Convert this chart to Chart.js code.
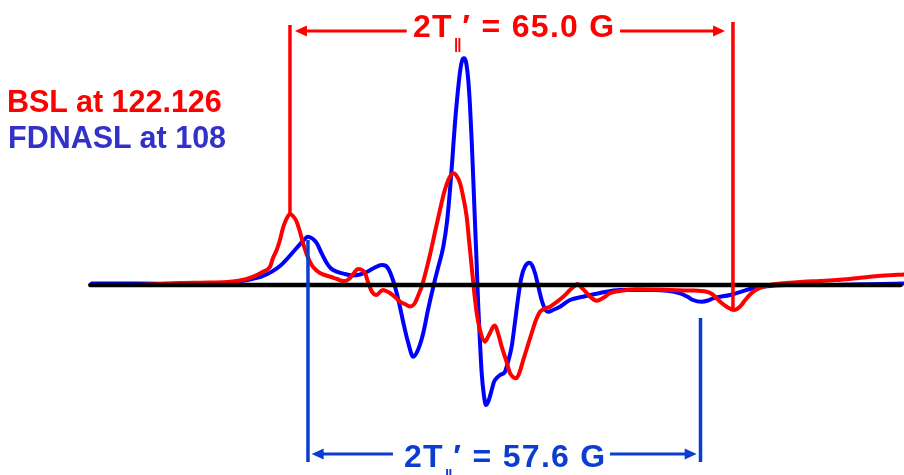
<!DOCTYPE html>
<html>
<head>
<meta charset="utf-8">
<script src="https://cdn.jsdelivr.net/npm/chart.js@4.4.0/dist/chart.umd.min.js"></script>
<style>
  html, body { margin: 0; padding: 0; background: #ffffff; }
  #wrap { position: relative; width: 904px; height: 475px; overflow: hidden; }
  #chart { position: absolute; left: 0; top: 0; }
  .lbl { position: absolute; white-space: nowrap; font-family: "Liberation Sans", Arial, sans-serif; font-weight: bold; line-height: 1; }
  .split { letter-spacing: 1.3px; }
  .sub { position: relative; font-size: 15px; letter-spacing: -1px; margin-left: 1px; margin-right: 2px; }
</style>
</head>
<body>
<div id="wrap">
  <canvas id="chart" width="904" height="475"></canvas>
  <div class="lbl" id="lgRed" style="left:7px; top:86px; font-size:30.5px; color:#ff0000;"></div>
  <div class="lbl" id="lgBlue" style="left:8px; top:122px; font-size:30.5px; color:#3232c8;"></div>
  <div class="lbl split" id="tRed" style="left:413px; top:10px; font-size:32px; color:#ff0000;"></div>
  <div class="lbl split" id="tBlue" style="left:404px; top:440px; font-size:32px; color:#0b3ecf;"></div>
</div>
<script>
// ---- Data (field offset in G, first-derivative EPR intensity in a.u.) ----
const bslField = [-29.10,-24.95,-20.54,-16.14,-11.74,-8.80,-6.60,-5.39,-3.96,-2.93,-2.49,-1.95,-1.47,-1.03,-0.59,0,0.44,0.98,1.47,1.91,2.49,3.18,3.82,4.40,5.87,6.90,7.78,8.36,8.80,9.39,9.98,10.42,11.01,11.45,12.03,12.72,13.21,13.65,14.09,14.67,15.41,16.14,16.88,17.61,18.34,18.78,19.33,19.81,20.54,21.28,22.01,22.60,23.23,23.63,23.96,24.36,24.95,25.39,25.93,26.27,26.66,27.00,27.40,27.88,28.61,29.05,29.35,29.79,30.08,30.52,31.07,31.70,32.28,32.72,33.16,33.60,34.23,34.78,35.47,36.10,36.69,37.42,38.15,39.03,40.10,41.09,41.67,42.22,42.70,43.54,44.17,45.00,45.93,46.96,48.42,50.87,52.83,55.76,58.70,61.15,61.93,62.62,63.25,64.09,65.06,65.60,66.04,66.92,67.98,68.97,70.44,72.79,75.32,77.77,80.22,82.61,85.11,87.31,90.10];
const bslIntensity = [0,0,0.5,2,2.5,3.3,5.5,8.3,13.3,18.3,27,35,45,57,65,71,69,63.3,53,42,30,20,15,12,8.3,6,4,4.5,7,12,16,15.5,12,3,-6.7,-10,-7,-5,-6,-8,-12,-16.7,-19,-21.5,-18,-11,-1.7,10,30,53,75,92,105,110,111.7,110,102,89,68.3,45,18.3,-5,-28,-45,-56.7,-52,-48,-42,-40.5,-48,-61.7,-75,-88,-92,-93.3,-89,-75,-63,-48,-35,-26.7,-23.5,-21.7,-17.5,-11.7,-5,-1.5,1,-2,-8,-12.5,-15.7,-13,-8.3,-6,-4.3,-4.5,-5,-5.5,-6.7,-9,-13.3,-17.5,-21.7,-25,-24,-21.7,-14,-6.7,-3,0,2,3.3,4,5,6.5,8.3,9.5,10.5];

const fdnaslField = [-29.10,-22.01,-14.67,-8.80,-6.31,-3.96,-1.47,0.98,1.91,2.64,3.38,3.92,4.55,5.39,6.02,6.85,8.07,9.24,10.27,11.25,12.33,13.46,14.09,14.53,15.11,15.66,16.14,16.58,17.32,18.09,18.78,19.56,20.25,21.03,21.72,22.50,23.04,23.48,23.85,24.21,24.58,24.95,25.24,25.53,25.83,26.16,26.41,26.66,26.90,27.15,27.40,27.63,27.88,28.13,28.47,28.76,29.13,29.60,29.93,30.33,30.82,31.55,31.99,32.53,33.02,33.50,33.97,34.48,35.12,35.51,35.95,36.39,36.93,37.42,37.90,38.59,39.62,41.09,42.99,45.49,48.42,53.27,57.23,58.40,59.14,60.41,61.34,62.12,64.57,67.98,70.44,72.89,77.77,82.61,86.58,90.10];
const fdnaslIntensity = [1.5,1.5,1,2,5,9,19,37,44,48.3,46,42,33,22,16.5,13.3,11,9.5,10.5,13,17,20,19,15,5,-8,-22,-36,-57,-71.7,-65,-48,-25,-1.7,17,38.3,63,95,128,162,190,213,224,226.7,223,205,180,145,105,62,20,-21.7,-57,-88,-111,-120,-116,-105,-97,-93,-90,-86.7,-77,-61.7,-37,-11.7,8,18.3,22.3,20,12,0,-15,-24,-26.7,-25,-21.7,-15,-11.7,-8,-5,-5,-8.3,-12,-15,-16.7,-15.5,-13.3,-10,-3.3,-1,0,0,0.5,1,1.5];

const baselineField = [-29.3, 89.6];
const baselineIntensity = [0, 0];

// hyperfine splitting markers (field positions, G)
const bslMarkers = [0, 65.0];
const fdnaslMarkers = [2.64, 60.24];

const legendLabels = ['BSL at 122.126', 'FDNASL at 108'];
const splittingLabels = ['65.0 G', '57.6 G'];

// ---- Text ----
document.getElementById('lgRed').textContent = legendLabels[0];
document.getElementById('lgBlue').textContent = legendLabels[1];
function splitHTML(v, subTop) {
  return '2T<span class="sub" style="top:' + subTop + 'px">||</span>\u2032 = ' + v;
}
document.getElementById('tRed').innerHTML = splitHTML(splittingLabels[0], 12);
document.getElementById('tBlue').innerHTML = splitHTML(splittingLabels[1], 13);

const pts = (xs, ys) => xs.map((x, i) => ({ x: x, y: ys[i] }));

// ---- Annotation styling ----
const annot = {
  red: { color: '#ff0000', markers: bslMarkers, tops: [260, 263], bottoms: [71, -25],
         arrowY: 254, gaps: [[0.73, 17.13], [48.42, 63.84]] },
  blue: { color: '#0b3ecf', markers: fdnaslMarkers, tops: [45, -33], bottoms: [-177, -177],
          arrowY: -169, gaps: [[3.18, 15.11], [46.96, 59.68]] }
};

const annotPlugin = {
  id: 'splittings',
  afterDatasetsDraw(chart) {
    const ctx = chart.ctx, xs = chart.scales.x, ys = chart.scales.y;
    ctx.save();
    for (const k of ['red', 'blue']) {
      const a = annot[k];
      ctx.strokeStyle = a.color; ctx.fillStyle = a.color;
      ctx.lineWidth = 3.5;
      a.markers.forEach((m, i) => {
        const px = xs.getPixelForValue(m);
        ctx.beginPath();
        ctx.moveTo(px, ys.getPixelForValue(a.tops[i]));
        ctx.lineTo(px, ys.getPixelForValue(a.bottoms[i]));
        ctx.stroke();
      });
      const py = ys.getPixelForValue(a.arrowY);
      ctx.lineWidth = 3;
      const l0 = xs.getPixelForValue(a.gaps[0][0]), l1 = xs.getPixelForValue(a.gaps[0][1]);
      const r0 = xs.getPixelForValue(a.gaps[1][0]), r1 = xs.getPixelForValue(a.gaps[1][1]);
      ctx.beginPath();
      ctx.moveTo(l0 + 8, py); ctx.lineTo(l1, py);
      ctx.moveTo(r0, py); ctx.lineTo(r1 - 8, py);
      ctx.stroke();
      ctx.beginPath();
      ctx.moveTo(l0, py); ctx.lineTo(l0 + 12, py - 5.5); ctx.lineTo(l0 + 12, py + 5.5); ctx.closePath();
      ctx.moveTo(r1, py); ctx.lineTo(r1 - 12, py - 5.5); ctx.lineTo(r1 - 12, py + 5.5); ctx.closePath();
      ctx.fill();
    }
    ctx.restore();
  }
};

new Chart(document.getElementById('chart'), {
  type: 'line',
  data: {
    datasets: [
      { label: 'baseline', data: pts(baselineField, baselineIntensity), borderColor: '#000000', borderWidth: 4.5, tension: 0 },
      { label: legendLabels[0], data: pts(bslField, bslIntensity), borderColor: '#ff0000', borderWidth: 4, cubicInterpolationMode: 'monotone' },
      { label: legendLabels[1], data: pts(fdnaslField, fdnaslIntensity), borderColor: '#0000ff', borderWidth: 4, cubicInterpolationMode: 'monotone' }
    ]
  },
  options: {
    responsive: false,
    animation: false,
    layout: { padding: 0 },
    elements: { point: { radius: 0 }, line: { borderCapStyle: 'round', borderJoinStyle: 'round' } },
    plugins: { legend: { display: false }, tooltip: { enabled: false } },
    scales: {
      x: { type: 'linear', min: -42.55, max: 90.10, display: false },
      y: { type: 'linear', min: -190, max: 285, display: false }
    }
  },
  plugins: [annotPlugin]
});
</script>
</body>
</html>
